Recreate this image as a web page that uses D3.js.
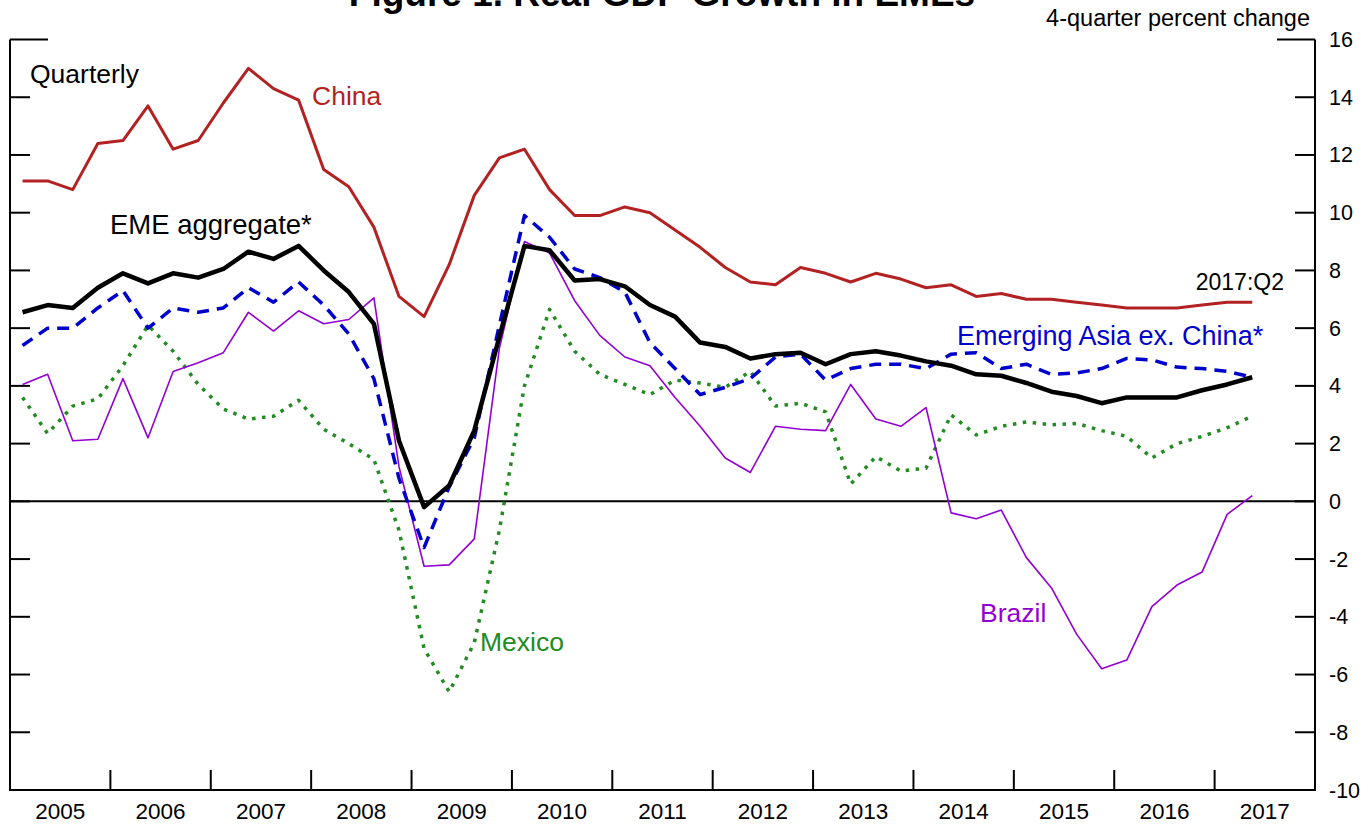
<!DOCTYPE html>
<html>
<head>
<meta charset="utf-8">
<script src="https://cdn.jsdelivr.net/npm/d3@7"></script>
<style>
  body { margin: 0; background: #fff; }
  svg text { font-family: "Liberation Sans", Arial, sans-serif; }
</style>
</head>
<body>
<div id="chart"></div>
<script>
//--------------------------------------------------------------------------
//  Real GDP growth in EMEs, quarterly, 2005:Q1 - 2017:Q2
//--------------------------------------------------------------------------

// DATA (4-quarter percent change)
var startYear = 2005
, endYear = 2018
, yearLabels = ["2005", "2006", "2007", "2008", "2009", "2010", "2011", "2012", "2013", "2014", "2015", "2016", "2017"]
, yTicks = [16, 14, 12, 10, 8, 6, 4, 2, 0, -2, -4, -6, -8, -10]

, china = [11.1, 11.1, 10.8, 12.4, 12.5, 13.7, 12.2, 12.5, 13.8, 15.0, 14.3, 13.9,
	11.5, 10.9, 9.5, 7.1, 6.4, 8.2, 10.6, 11.9, 12.2, 10.8, 9.9, 9.9,
	10.2, 10.0, 9.4, 8.8, 8.1, 7.6, 7.5, 8.1, 7.9, 7.6, 7.9, 7.7,
	7.4, 7.5, 7.1, 7.2, 7.0, 7.0, 6.9, 6.8, 6.7, 6.7, 6.7, 6.8, 6.9, 6.9]

, emeAggregate = [6.55, 6.8, 6.7, 7.4, 7.9, 7.55, 7.9, 7.75, 8.05, 8.65, 8.4, 8.85,
	8.0, 7.25, 6.15, 2.1, -0.2, 0.55, 2.45, 5.7, 8.85, 8.7, 7.65, 7.7,
	7.45, 6.8, 6.4, 5.5, 5.35, 4.95, 5.1, 5.15, 4.75, 5.1, 5.2, 5.05,
	4.85, 4.7, 4.4, 4.35, 4.1, 3.8, 3.65, 3.4, 3.6, 3.6, 3.6, 3.85, 4.05, 4.3]

, asiaExChina = [5.4, 6.0, 6.0, 6.7, 7.3, 6.0, 6.7, 6.55, 6.7, 7.4, 6.9, 7.6,
	6.8, 5.8, 4.25, 0.8, -1.6, 0.5, 2.2, 6.1, 9.9, 9.15, 8.05, 7.75,
	7.25, 5.5, 4.6, 3.7, 3.95, 4.25, 5.0, 5.1, 4.2, 4.6, 4.75, 4.75,
	4.6, 5.1, 5.15, 4.6, 4.75, 4.4, 4.45, 4.6, 4.95, 4.9, 4.65, 4.6, 4.5, 4.3]

, brazil = [4.05, 4.4, 2.1, 2.15, 4.25, 2.2, 4.5, 4.8, 5.15, 6.55, 5.9, 6.6,
	6.15, 6.3, 7.05, 1.2, -2.25, -2.2, -1.3, 5.3, 9.0, 8.6, 6.95, 5.75,
	5.0, 4.7, 3.6, 2.6, 1.5, 1.0, 2.6, 2.5, 2.45, 4.05, 2.85, 2.6,
	3.25, -0.4, -0.6, -0.3, -1.95, -3.0, -4.6, -5.8, -5.5, -3.65, -2.9, -2.45, -0.45, 0.2]

, mexico = [3.6, 2.35, 3.3, 3.55, 4.7, 6.1, 5.2, 4.05, 3.2, 2.85, 2.95, 3.5,
	2.5, 2.0, 1.45, -1.0, -5.1, -6.6, -4.9, -1.0, 4.0, 6.65, 5.2, 4.4,
	4.05, 3.7, 4.2, 4.1, 3.95, 4.5, 3.3, 3.4, 3.1, 0.6, 1.55, 1.05,
	1.15, 3.0, 2.3, 2.6, 2.75, 2.65, 2.7, 2.45, 2.25, 1.5, 2.0, 2.25, 2.55, 2.95];

(function(){

	var w = 1370
	, h = 825
	, left = 10
	, right = 1315
	, top = 39.5
	, bottom = 790
	, svg
	, x
	, y
	, line
	, series;

	x = d3.scaleLinear().domain([startYear, endYear]).range([left, right]);
	y = d3.scaleLinear().domain([-10, 16]).range([bottom, top]);

	// quarter midpoints
	function qx(i) {
		return x(startYear + (i + 0.5) / 4);
	}

	line = d3.line()
		.x(function(d, i) { return qx(i); })
		.y(function(d) { return y(d); });

	svg = d3.select("#chart")
		.append("svg")
		.attr("width", w)
		.attr("height", h);

	// title, mostly cut off by the top edge (as in the source)
	svg.append("text")
		.attr("x", 662)
		.attr("y", 6)
		.attr("text-anchor", "middle")
		.attr("font-size", 37)
		.attr("font-weight", "bold")
		.text("Figure 1. Real GDP Growth in EMEs");

	svg.append("text")
		.attr("x", 1310)
		.attr("y", 26)
		.attr("text-anchor", "end")
		.attr("font-size", 23.5)
		.text("4-quarter percent change");

	// frame
	svg.append("path")
		.attr("d", "M" + left + "," + top + "V" + bottom + "H" + right + "V" + top)
		.attr("fill", "none")
		.attr("stroke", "#000")
		.attr("stroke-width", 2);

	// y ticks on both sides
	svg.selectAll("line.ytickL")
		.data(yTicks.slice(0, -1))
		.enter()
		.append("line")
		.attr("x1", left)
		.attr("x2", function(d) { return d === 16 ? left + 38 : left + 20; })
		.attr("y1", function(d) { return y(d); })
		.attr("y2", function(d) { return y(d); })
		.attr("stroke", "#000")
		.attr("stroke-width", 2);

	svg.selectAll("line.ytickR")
		.data(yTicks.slice(0, -1))
		.enter()
		.append("line")
		.attr("x1", function(d) { return d === 16 ? right - 38 : right - 20; })
		.attr("x2", right)
		.attr("y1", function(d) { return y(d); })
		.attr("y2", function(d) { return y(d); })
		.attr("stroke", "#000")
		.attr("stroke-width", 2);

	svg.selectAll("text.ylab")
		.data(yTicks)
		.enter()
		.append("text")
		.attr("x", right + 14)
		.attr("y", function(d) { return y(d) + 7.5; })
		.attr("font-size", 21.5)
		.text(function(d) { return d; });

	// year boundaries
	svg.selectAll("line.xtick")
		.data(d3.range(startYear + 1, endYear))
		.enter()
		.append("line")
		.attr("x1", function(d) { return x(d); })
		.attr("x2", function(d) { return x(d); })
		.attr("y1", bottom)
		.attr("y2", bottom - 20)
		.attr("stroke", "#000")
		.attr("stroke-width", 2);

	svg.selectAll("text.xlab")
		.data(yearLabels)
		.enter()
		.append("text")
		.attr("x", function(d) { return x(+d + 0.5); })
		.attr("y", 819)
		.attr("text-anchor", "middle")
		.attr("font-size", 22.5)
		.text(function(d) { return d; });

	// zero line
	svg.append("line")
		.attr("x1", left)
		.attr("x2", right)
		.attr("y1", y(0))
		.attr("y2", y(0))
		.attr("stroke", "#000")
		.attr("stroke-width", 2);

	series = [
		{name: "mexico", data: mexico, color: "#228B22", width: 3.5, dash: "3.5,6.5"},
		{name: "brazil", data: brazil, color: "#9400D3", width: 1.6, dash: null},
		{name: "asia", data: asiaExChina, color: "#0000CD", width: 3.5, dash: "12,8"},
		{name: "china", data: china, color: "#B22222", width: 3, dash: null},
		{name: "eme", data: emeAggregate, color: "#000000", width: 4.5, dash: null}
	];

	svg.selectAll("path.series")
		.data(series)
		.enter()
		.append("path")
		.attr("class", "series")
		.attr("d", function(d) { return line(d.data); })
		.attr("fill", "none")
		.attr("stroke", function(d) { return d.color; })
		.attr("stroke-width", function(d) { return d.width; })
		.attr("stroke-dasharray", function(d) { return d.dash; })
		.attr("stroke-linejoin", "round");

	// labels
	var labels = [
		{t: "Quarterly", x: 30, y: 83, c: "#000", s: 26.5, a: "start"},
		{t: "China", x: 312, y: 105, c: "#B22222", s: 26.5, a: "start"},
		{t: "EME aggregate*", x: 110, y: 234, c: "#000", s: 27.5, a: "start"},
		{t: "2017:Q2", x: 1284, y: 290, c: "#000", s: 23, a: "end"},
		{t: "Emerging Asia ex. China*", x: 957, y: 345, c: "#0000CD", s: 27, a: "start"},
		{t: "Mexico", x: 480, y: 651, c: "#228B22", s: 26.5, a: "start"},
		{t: "Brazil", x: 980, y: 622, c: "#9400D3", s: 26.5, a: "start"}
	];

	svg.selectAll("text.label")
		.data(labels)
		.enter()
		.append("text")
		.attr("x", function(d) { return d.x; })
		.attr("y", function(d) { return d.y; })
		.attr("fill", function(d) { return d.c; })
		.attr("font-size", function(d) { return d.s; })
		.attr("text-anchor", function(d) { return d.a; })
		.text(function(d) { return d.t; });

}());
</script>
</body>
</html>
